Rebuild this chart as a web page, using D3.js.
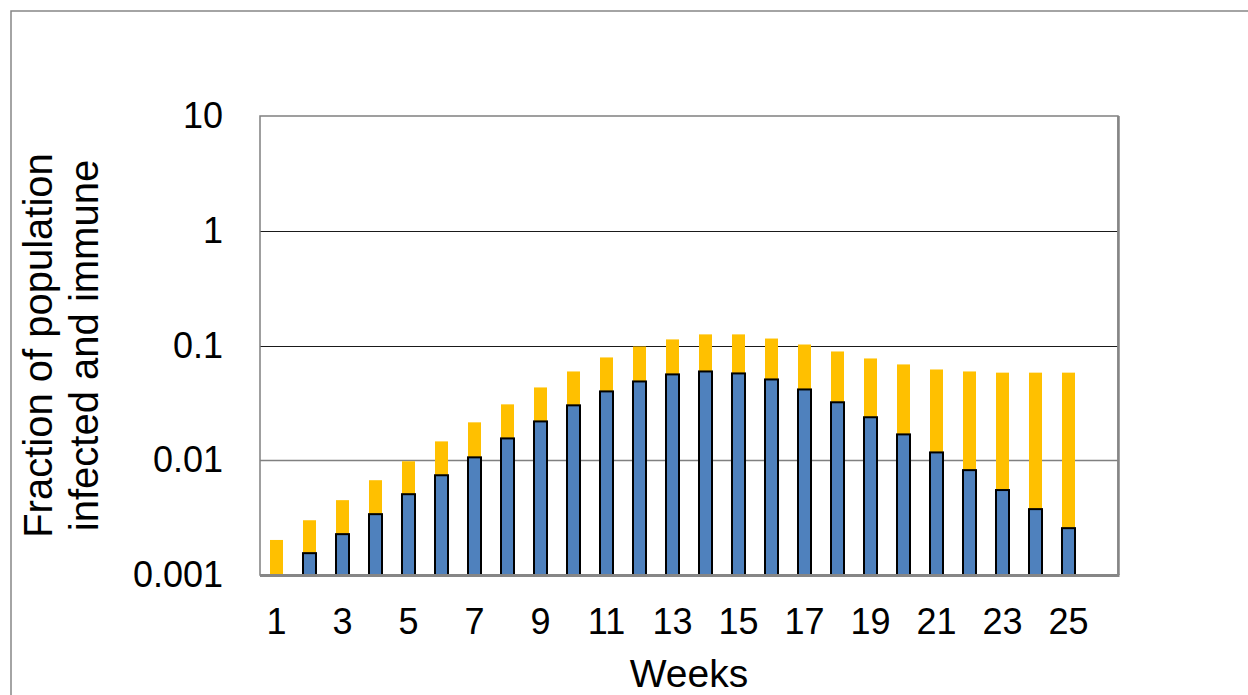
<!DOCTYPE html>
<html>
<head>
<meta charset="utf-8">
<script src="https://cdn.jsdelivr.net/npm/d3@7"></script>
<style>
  html, body { margin: 0; padding: 0; background: #fff; }
  svg { display: block; }
  text { font-family: "Liberation Sans", Arial, sans-serif; fill: #000; }
</style>
</head>
<body>
<div id="chart"></div>
<script>
// weeks 1..25 plus an empty 26th slot on the category axis
const weeks = d3.range(1, 27);
const weekLabels = [1, 3, 5, 7, 9, 11, 13, 15, 17, 19, 21, 23, 25];

// fraction of population infected and immune (yellow, total)
const totalFraction = [
  0.00202, 0.0030, 0.00449, 0.0067, 0.0098, 0.0146, 0.0214, 0.0307, 0.0431, 0.0594,
  0.0787, 0.098, 0.113, 0.125, 0.125, 0.115, 0.102, 0.0887, 0.0771, 0.0684,
  0.0618, 0.0594, 0.058, 0.058, 0.058
];

// fraction infected (blue)
const infectedFraction = [
  null, 0.00155, 0.00227, 0.00339, 0.00506, 0.0074, 0.0106, 0.0155, 0.0218, 0.0301,
  0.0398, 0.0486, 0.056, 0.0594, 0.0571, 0.0506, 0.0414, 0.032, 0.0237, 0.0168,
  0.0117, 0.0082, 0.0055, 0.00375, 0.00256
];

const yTicks = [0.001, 0.01, 0.1, 1, 10];
const yTickLabels = ["0.001", "0.01", "0.1", "1", "10"];

const width = 1248;
const height = 695;
const margin = { top: 116, right: 130, bottom: 120, left: 260 };
const boundedWidth = width - margin.left - margin.right;
const boundedHeight = height - margin.top - margin.bottom;

const svg = d3.select("#chart")
  .append("svg")
  .attr("width", width)
  .attr("height", height);

// outer chart frame (runs off the page on the right and bottom)
svg.append("rect")
  .attr("x", 11)
  .attr("y", 11)
  .attr("width", 1300)
  .attr("height", 800)
  .attr("fill", "none")
  .attr("stroke", "#868686")
  .attr("stroke-width", 1.5);

const bounds = svg.append("g")
  .attr("transform", `translate(${margin.left}, ${margin.top})`);

const xScale = d3.scaleBand()
  .domain(weeks)
  .range([0, boundedWidth]);

const yScale = d3.scaleLog()
  .domain([0.001, 10])
  .range([boundedHeight, 0]);

// gridlines
bounds.append("g")
  .selectAll("line")
  .data(yTicks.slice(1, -1))
  .join("line")
  .attr("x1", 0)
  .attr("x2", boundedWidth)
  .attr("y1", d => Math.round(yScale(d)) + 0.5)
  .attr("y2", d => Math.round(yScale(d)) + 0.5)
  .attr("stroke", d => d === 0.01 ? "#808080" : "#1a1a1a")
  .attr("stroke-width", d => d === 0.01 ? 1.5 : 1);

// plot area border
bounds.append("rect")
  .attr("x", 0)
  .attr("y", 0)
  .attr("width", boundedWidth)
  .attr("height", boundedHeight)
  .attr("fill", "none")
  .attr("stroke", "#808080")
  .attr("stroke-width", 1.5);

const barWidth = 13;
const barX = (i) => xScale(weeks[i]) + xScale.bandwidth() / 2 - barWidth / 2;

// immune + infected (yellow)
bounds.append("g")
  .selectAll("rect")
  .data(totalFraction)
  .join("rect")
  .attr("x", (d, i) => barX(i))
  .attr("y", d => yScale(d))
  .attr("width", barWidth)
  .attr("height", d => boundedHeight - yScale(d))
  .attr("fill", "#FFC000");

// infected (blue)
bounds.append("g")
  .selectAll("rect")
  .data(infectedFraction.map((v, i) => ({ v, i })).filter(d => d.v != null))
  .join("rect")
  .attr("x", d => barX(d.i))
  .attr("y", d => yScale(d.v))
  .attr("width", barWidth)
  .attr("height", d => boundedHeight - yScale(d.v))
  .attr("fill", "#4F81BD")
  .attr("stroke", "#000")
  .attr("stroke-width", 2);

// right and bottom edges drawn heavier
bounds.append("line")
  .attr("x1", 0).attr("x2", boundedWidth + 1.5)
  .attr("y1", boundedHeight + 0.5).attr("y2", boundedHeight + 0.5)
  .attr("stroke", "#868686").attr("stroke-width", 3);
bounds.append("line")
  .attr("x1", boundedWidth + 0.5).attr("x2", boundedWidth + 0.5)
  .attr("y1", 0).attr("y2", boundedHeight)
  .attr("stroke", "#868686").attr("stroke-width", 2.5);

// y axis labels
const yAxis = bounds.append("g")
  .call(d3.axisLeft(yScale)
    .tickValues(yTicks)
    .tickSize(0)
    .tickPadding(37)
    .tickFormat((d, i) => yTickLabels[i]));
yAxis.select(".domain").remove();
yAxis.selectAll("text")
  .attr("font-size", "36px")
  .style("font-family", "Liberation Sans, Arial, sans-serif");

// x axis labels
const xAxis = bounds.append("g")
  .attr("transform", `translate(0, ${boundedHeight})`)
  .call(d3.axisBottom(xScale)
    .tickValues(weekLabels)
    .tickSize(0)
    .tickPadding(33));
xAxis.select(".domain").remove();
xAxis.selectAll("text")
  .attr("font-size", "36px")
  .style("font-family", "Liberation Sans, Arial, sans-serif");

// axis titles
svg.append("text")
  .attr("x", margin.left + boundedWidth / 2)
  .attr("y", 687)
  .attr("text-anchor", "middle")
  .attr("font-size", "39px")
  .text("Weeks");

const yTitle = svg.append("text")
  .attr("transform", `translate(0, ${margin.top + boundedHeight / 2}) rotate(-90)`)
  .attr("text-anchor", "middle")
  .attr("font-size", "40px");
yTitle.append("tspan").attr("x", 0).attr("y", 52).text("Fraction of population");
yTitle.append("tspan").attr("x", 0).attr("y", 98).text("infected and immune");
</script>
</body>
</html>
